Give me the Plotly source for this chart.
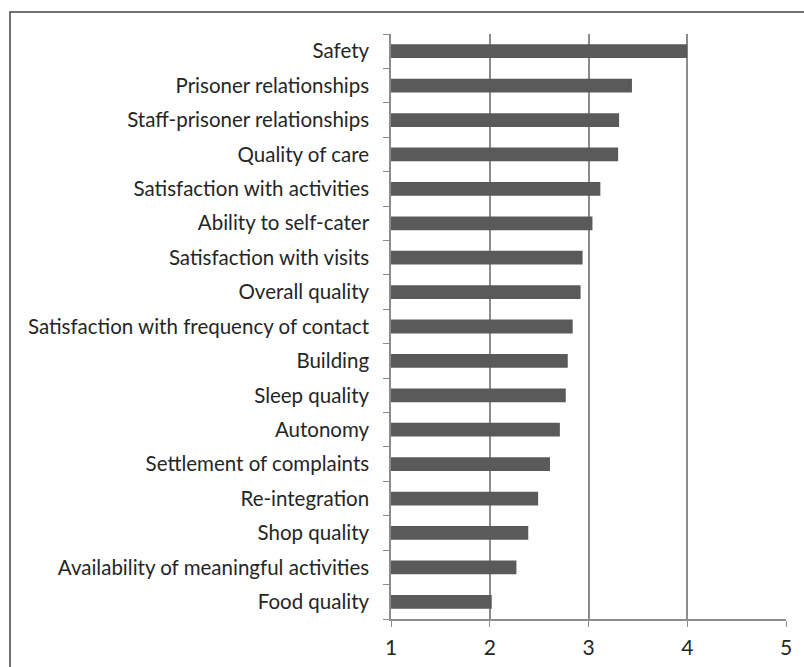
import plotly.graph_objects as go

categories = [
    "Safety",
    "Prisoner relationships",
    "Staff-prisoner relationships",
    "Quality of care",
    "Satisfaction with activities",
    "Ability to self-cater",
    "Satisfaction with visits",
    "Overall quality",
    "Satisfaction with frequency of contact",
    "Building",
    "Sleep quality",
    "Autonomy",
    "Settlement of complaints",
    "Re-integration",
    "Shop quality",
    "Availability of meaningful activities",
    "Food quality",
]
values = [4.00, 3.44, 3.31, 3.30, 3.12, 3.04, 2.94, 2.92, 2.84, 2.79, 2.77,
          2.71, 2.61, 2.49, 2.39, 2.27, 2.02]
x_ticks = [1, 2, 3, 4, 5]
axis_min = 1

fig = go.Figure(go.Bar(
    y=categories,
    x=[v - axis_min for v in values],
    base=axis_min,
    orientation="h",
    marker=dict(color="#5a5a5a", line=dict(width=0)),
    width=0.4,
))

font = "Lato, 'Open Sans', sans-serif"
fig.update_layout(
    width=804, height=667,
    margin=dict(l=391, r=18, t=34, b=48),
    paper_bgcolor="white", plot_bgcolor="white",
    showlegend=False,
    font=dict(family=font, size=20.5, color="#262626"),
    xaxis=dict(
        range=[1, 5], tickvals=x_ticks, ticktext=[str(t) for t in x_ticks],
        showgrid=True, gridcolor="#8c8c8c", gridwidth=1.5,
        showline=True, linecolor="#8c8c8c", linewidth=1.5,
        ticks="outside", ticklen=6, tickcolor="#8c8c8c",
        zeroline=False, tickfont=dict(size=21), ticklabelstandoff=3,
        automargin=False,
    ),
    yaxis=dict(
        categoryorder="array", categoryarray=categories[::-1],
        showline=True, linecolor="#8c8c8c", linewidth=1.5,
        ticks="outside", ticklen=6, tickcolor="#8c8c8c", tickson="boundaries",
        showgrid=False, zeroline=False, ticklabelstandoff=16,
        automargin=False,
    ),
    shapes=[dict(type="rect", xref="paper", yref="paper",
                 x0=-381/395, x1=1.2, y0=-0.2, y1=1 + 22/585,
                 line=dict(color="#444444", width=1.5))],
)

fig.write_html("out.html")
